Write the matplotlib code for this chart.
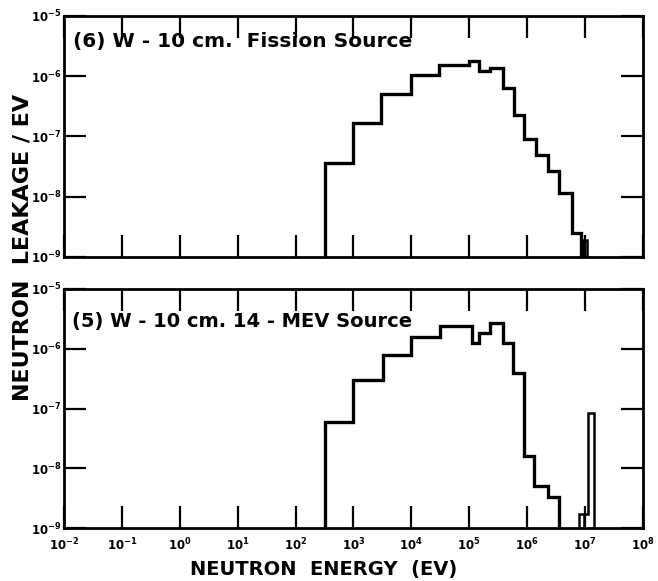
import numpy as np
import matplotlib
matplotlib.use("Agg")
import matplotlib.pyplot as plt
from matplotlib.ticker import NullLocator, FixedLocator

plt.rcParams.update({"font.family": "DejaVu Sans", "font.weight": "bold",
                     "mathtext.default": "bf"})

# ---- data (energy bin edges in eV, leakage per eV) ----
fis_edges = [320, 1.0e3, 3.0e3, 1.0e4, 3.0e4, 1.0e5, 1.45e5, 2.3e5, 3.8e5,
             6.0e5, 9.0e5, 1.4e6, 2.3e6, 3.5e6, 6.0e6, 8.7e6]
fis_vals = [3.6e-8, 1.7e-7, 5.0e-7, 1.05e-6, 1.55e-6, 1.8e-6, 1.23e-6, 1.35e-6,
            6.3e-7, 2.3e-7, 9.0e-8, 4.9e-8, 2.7e-8, 1.17e-8, 2.5e-9]
fis_tail_edges = [9.3e6, 1.07e7]
fis_tail_vals = [1.9e-9]

mev_edges = [320, 1.0e3, 3.2e3, 1.0e4, 3.1e4, 1.1e5, 1.48e5, 2.3e5, 3.8e5,
             5.7e5, 8.9e5, 1.32e6, 2.3e6, 3.5e6]
mev_vals = [6.0e-8, 3.0e-7, 7.9e-7, 1.6e-6, 2.4e-6, 1.23e-6, 1.85e-6, 2.7e-6,
            1.23e-6, 4.0e-7, 1.6e-8, 5.0e-9, 3.3e-9]
mev_peak_edges = [7.86e6, 9.6e6, 1.13e7, 1.45e7]
mev_peak_vals = [1.7e-9, 1.7e-9, 8.4e-8]

xticks = [10.0**k for k in range(-2, 9)]
xticklabels = [r"$10^{%d}$" % k for k in range(-2, 9)]
yticks = [10.0**k for k in range(-9, -4)]
yticklabels = [r"$10^{%d}$" % k for k in range(-9, -4)]

YMIN, YMAX = 1e-9, 1e-5
LW = 2.4

fig = plt.figure(figsize=(6.58, 5.81), dpi=100)
ax1 = fig.add_axes([0.0973, 0.5577, 0.8797, 0.4148])
ax2 = fig.add_axes([0.0973, 0.0912, 0.8797, 0.4114])

for ax in (ax1, ax2):
    ax.set_xscale("log")
    ax.set_yscale("log")
    ax.set_xlim(1e-2, 1e8)
    ax.set_ylim(YMIN, YMAX)
    ax.xaxis.set_major_locator(FixedLocator(xticks))
    ax.xaxis.set_minor_locator(NullLocator())
    ax.yaxis.set_major_locator(FixedLocator(yticks))
    ax.yaxis.set_minor_locator(NullLocator())
    ax.set_yticklabels(yticklabels, fontsize=8.5)
    ax.tick_params(which="major", direction="in", length=16, width=1.6,
                   top=True, right=True, pad=2)
    ax.tick_params(axis="x", pad=6)
    for s in ax.spines.values():
        s.set_linewidth(2.0)

# top panel: fission source
ax1.stairs(fis_vals, fis_edges, baseline=YMIN, color="black", lw=LW)
ax1.stairs(fis_tail_vals, fis_tail_edges, baseline=YMIN, color="black", lw=1.8)
ax1.set_xticklabels([])
ax1.text(0.015, 0.935, "(6) W - 10 cm.  Fission Source", transform=ax1.transAxes,
         fontsize=14.5, fontweight="bold", va="top", ha="left")

# bottom panel: 14-MeV source
ax2.stairs(mev_vals, mev_edges, baseline=YMIN, color="black", lw=LW)
ax2.stairs(mev_peak_vals, mev_peak_edges, baseline=YMIN, color="black", lw=1.8)
ax2.vlines(mev_peak_edges[1], YMIN, mev_peak_vals[0], color="black", lw=1.8)
ax2.set_xticklabels(xticklabels, fontsize=8.5)
ax2.text(0.013, 0.905, "(5) W - 10 cm. 14 - MEV Source", transform=ax2.transAxes,
         fontsize=14, fontweight="bold", va="top", ha="left")

fig.text(324 / 658, 1 - 569 / 581, "NEUTRON  ENERGY  (EV)", fontsize=14,
         fontweight="bold", ha="center", va="center")
fig.text(0.034, 1 - 247 / 581, "NEUTRON  LEAKAGE / EV", rotation=90, fontsize=16,
         fontweight="bold", ha="center", va="center")

fig.savefig("out.png", dpi=100)
